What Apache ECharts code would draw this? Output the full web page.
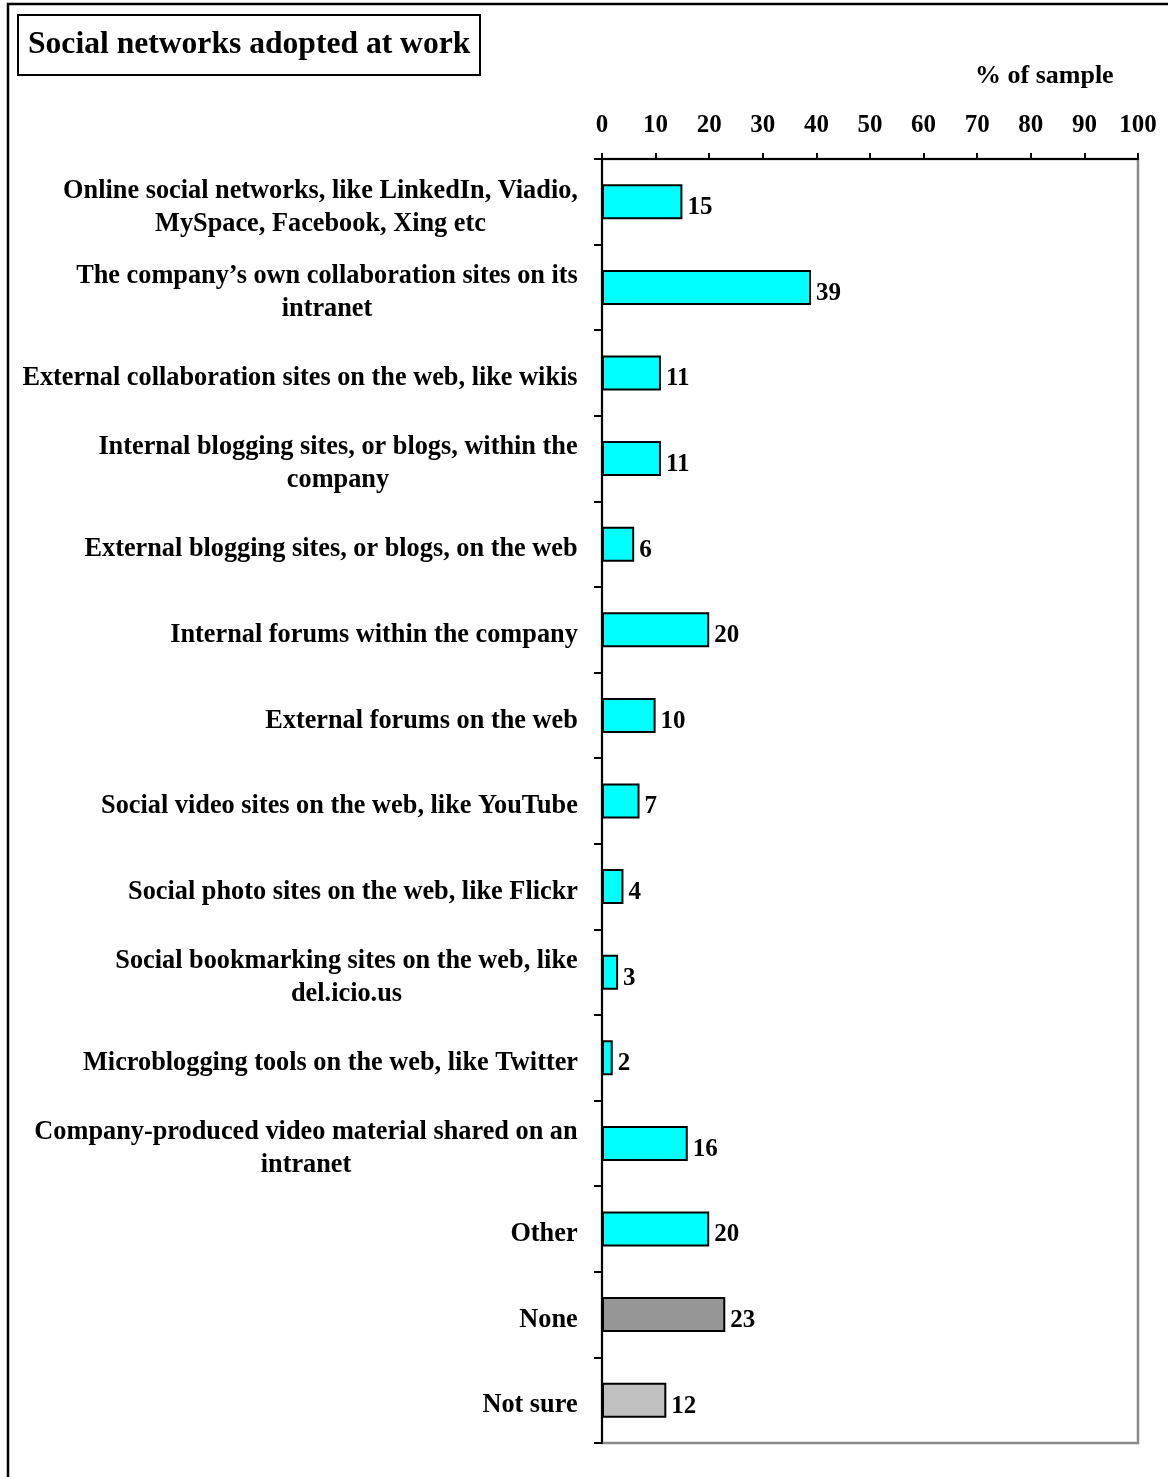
<!DOCTYPE html>
<html>
<head>
<meta charset="utf-8">
<script src="https://cdn.jsdelivr.net/npm/echarts@6/dist/echarts.min.js"></script>
<style>
html,body{margin:0;padding:0;background:#fff;}
#chart{width:1168px;height:1477px;}
</style>
</head>
<body>
<div id="chart"></div>
<script>
var titleText = 'Social networks adopted at work';
var axisTitle = '% of sample';
var categories = [
  'Online social networks, like LinkedIn, Viadio,\nMySpace, Facebook, Xing etc',
  'The company\u2019s own collaboration sites on its\nintranet',
  'External collaboration sites on the web, like wikis',
  'Internal blogging sites, or blogs, within the\ncompany',
  'External blogging sites, or blogs, on the web',
  'Internal forums within the company',
  'External forums on the web',
  'Social video sites on the web, like YouTube',
  'Social photo sites on the web, like Flickr',
  'Social bookmarking sites on the web, like\ndel.icio.us',
  'Microblogging tools on the web, like Twitter',
  'Company-produced video material shared on an\nintranet',
  'Other',
  'None',
  'Not sure'
];
var values = [15, 39, 11, 11, 6, 20, 10, 7, 4, 3, 2, 16, 20, 23, 12];
var barColors = ['#00FFFF','#00FFFF','#00FFFF','#00FFFF','#00FFFF','#00FFFF','#00FFFF','#00FFFF','#00FFFF','#00FFFF','#00FFFF','#00FFFF','#00FFFF','#969696','#C0C0C0'];

var FONT = '"Liberation Serif", "Times New Roman", serif';
var FS = 25;
var CFS = 26.3;
var LH = 33;

// measure widest line of each label so wrapped lines are centred within a right-aligned block
var cv = document.createElement('canvas').getContext('2d');
cv.font = 'bold ' + CFS + 'px ' + FONT;
var rich = {};
categories.forEach(function (c, i) {
  var w = 0;
  c.split('\n').forEach(function (l) { w = Math.max(w, cv.measureText(l).width); });
  rich['l' + i] = { width: Math.ceil(w), align: 'center', fontFamily: FONT, fontWeight: 'bold', fontSize: CFS, lineHeight: LH, color: '#000' };
});

var chart = echarts.init(document.getElementById('chart'), null, { renderer: 'canvas' });
chart.setOption({
  animation: false,
  backgroundColor: '#fff',
  title: {
    text: titleText,
    left: 18, top: 15,
    borderColor: '#000', borderWidth: 2,
    padding: [12, 10, 12, 10],
    textStyle: { fontFamily: FONT, fontWeight: 'bold', fontSize: 31.6, color: '#000', lineHeight: 36 }
  },
  grid: {
    left: 602, right: 30, top: 159, bottom: 34,
    show: true, borderColor: '#8a8a8a', borderWidth: 2.5, backgroundColor: 'transparent'
  },
  xAxis: {
    type: 'value', position: 'top', min: 0, max: 100, interval: 10,
    axisLine: { show: true, lineStyle: { color: '#000', width: 2 } },
    axisTick: { show: true, inside: false, length: 6, lineStyle: { color: '#000', width: 2 } },
    splitLine: { show: false },
    axisLabel: { margin: 21, fontFamily: FONT, fontWeight: 'bold', fontSize: FS, color: '#000' }
  },
  yAxis: {
    type: 'category', data: categories, inverse: true,
    axisLine: { show: true, lineStyle: { color: '#000', width: 2 } },
    axisTick: { show: true, inside: false, length: 8, alignWithLabel: false, lineStyle: { color: '#000', width: 2 } },
    axisLabel: {
      margin: 24, interval: 0,
      padding: [11, 0, 0, 0],
      formatter: function (v, i) {
        return v.split('\n').map(function (l) { return '{l' + i + '|' + l + '}'; }).join('\n');
      },
      rich: rich
    }
  },
  series: [{
    type: 'bar',
    barWidth: 35,
    data: values.map(function (v, i) { return { value: v, itemStyle: { color: barColors[i] } }; }),
    itemStyle: { borderColor: '#000', borderWidth: 2 },
    label: {
      show: true, position: 'right', distance: 5, offset: [0, 6],
      fontFamily: FONT, fontWeight: 'bold', fontSize: FS, color: '#000'
    }
  }],
  graphic: [
    { type: 'rect', silent: true, shape: { x: 8, y: 4, width: 1200, height: 1500 }, style: { fill: 'none', stroke: '#000', lineWidth: 2.5 } },
    { type: 'text', left: 975, top: 63, style: { text: axisTitle, font: 'bold 26px ' + FONT, fill: '#000' } }
  ]
});
</script>
</body>
</html>
